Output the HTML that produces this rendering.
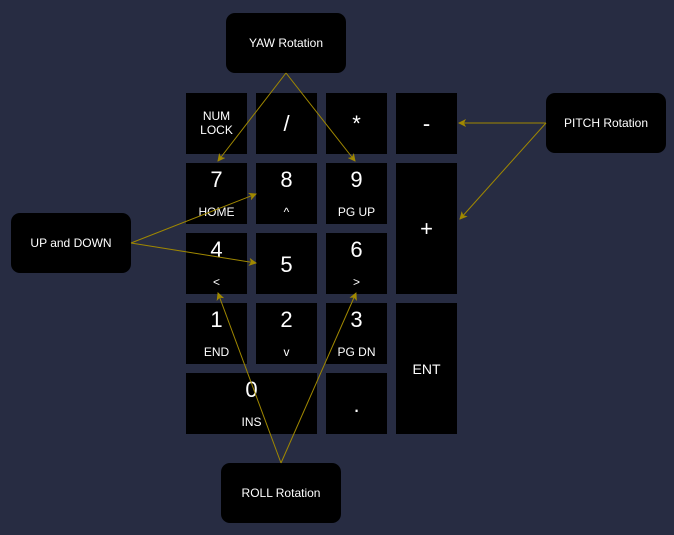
<!DOCTYPE html>
<html><head><meta charset="utf-8"><style>
html,body{margin:0;padding:0;}
body{width:674px;height:535px;background:#272c42;position:relative;overflow:hidden;font-family:"Liberation Sans",sans-serif;color:#fff;}
.k{position:absolute;background:#000;text-align:center;}
.b{position:absolute;left:0;right:0;font-size:22px;}
.s{position:absolute;left:0;right:0;font-size:12px;}
.n{position:absolute;background:#000;border-radius:9px;width:120px;height:60px;display:flex;align-items:center;justify-content:center;font-size:12px;}
svg{position:absolute;left:0;top:0;}
</style></head><body>
<div class="k" style="left:186px;top:93px;width:61px;height:61px;"><div class="s" style="top:16px;line-height:14px;">NUM<br>LOCK</div></div>
<div class="k" style="left:256px;top:93px;width:61px;height:61px;"><div class="b" style="top:18px;">/</div></div>
<div class="k" style="left:326px;top:93px;width:61px;height:61px;"><div class="b" style="top:18px;">*</div></div>
<div class="k" style="left:396px;top:93px;width:61px;height:61px;"><div class="b" style="top:18px;">-</div></div>

<div class="k" style="left:186px;top:163px;width:61px;height:61px;"><div class="b" style="top:4px;">7</div><div class="s" style="top:42px;">HOME</div></div>
<div class="k" style="left:256px;top:163px;width:61px;height:61px;"><div class="b" style="top:4px;">8</div><div class="s" style="top:42px;">^</div></div>
<div class="k" style="left:326px;top:163px;width:61px;height:61px;"><div class="b" style="top:4px;">9</div><div class="s" style="top:42px;">PG UP</div></div>
<div class="k" style="left:396px;top:163px;width:61px;height:131px;"><div class="b" style="top:53px;">+</div></div>

<div class="k" style="left:186px;top:233px;width:61px;height:61px;"><div class="b" style="top:4px;">4</div><div class="s" style="top:42px;">&lt;</div></div>
<div class="k" style="left:256px;top:233px;width:61px;height:61px;"><div class="b" style="top:19px;">5</div></div>
<div class="k" style="left:326px;top:233px;width:61px;height:61px;"><div class="b" style="top:4px;">6</div><div class="s" style="top:42px;">&gt;</div></div>

<div class="k" style="left:186px;top:303px;width:61px;height:61px;"><div class="b" style="top:4px;">1</div><div class="s" style="top:42px;">END</div></div>
<div class="k" style="left:256px;top:303px;width:61px;height:61px;"><div class="b" style="top:4px;">2</div><div class="s" style="top:42px;">v</div></div>
<div class="k" style="left:326px;top:303px;width:61px;height:61px;"><div class="b" style="top:4px;">3</div><div class="s" style="top:42px;">PG DN</div></div>
<div class="k" style="left:396px;top:303px;width:61px;height:131px;"><div class="s" style="top:58px;font-size:14px;">ENT</div></div>

<div class="k" style="left:186px;top:373px;width:131px;height:61px;"><div class="b" style="top:4px;">0</div><div class="s" style="top:42px;">INS</div></div>
<div class="k" style="left:326px;top:373px;width:61px;height:61px;"><div class="b" style="top:19px;">.</div></div>

<div class="n" style="left:226px;top:13px;">YAW Rotation</div>
<div class="n" style="left:546px;top:93px;">PITCH Rotation</div>
<div class="n" style="left:11px;top:213px;">UP and DOWN</div>
<div class="n" style="left:221px;top:463px;">ROLL Rotation</div>

<svg width="674" height="535">
<defs><marker id="a" markerWidth="8" markerHeight="8" refX="7" refY="4" orient="auto" markerUnits="userSpaceOnUse"><path d="M0,0 L8,4 L0,8 L2,4 z" fill="#a08800"/></marker></defs>
<g stroke="#a08800" stroke-width="1" fill="none" marker-end="url(#a)">
<line x1="286" y1="73" x2="218" y2="161"/>
<line x1="286" y1="73" x2="355" y2="161"/>
<line x1="546" y1="123" x2="459" y2="123"/>
<line x1="546" y1="123" x2="460" y2="219"/>
<line x1="131" y1="243" x2="256" y2="194"/>
<line x1="131" y1="243" x2="256" y2="263"/>
<line x1="281" y1="463" x2="218" y2="293"/>
<line x1="281" y1="463" x2="356" y2="293"/>
</g></svg>
</body></html>
